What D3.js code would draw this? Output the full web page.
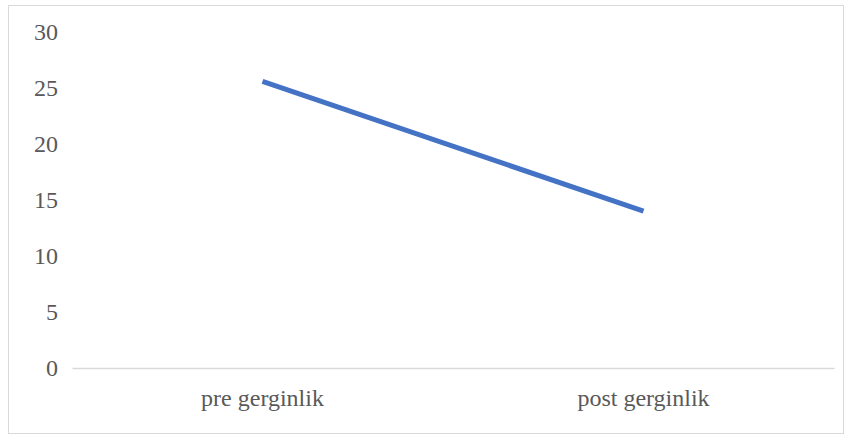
<!DOCTYPE html>
<html>
<head>
<meta charset="utf-8">
<script src="https://cdn.jsdelivr.net/npm/d3@7"></script>
<style>
  html, body { margin: 0; padding: 0; background: #fff; }
  svg { display: block; }
  svg text { font-family: "Liberation Serif", "DejaVu Serif", serif !important; }
</style>
</head>
<body>
<svg id="chart" width="849" height="435"></svg>
<script>
// Data
const categories = ["pre gerginlik", "post gerginlik"];
const values = [25.6, 14.0];
const yTicks = [0, 5, 10, 15, 20, 25, 30];

const W = 849, H = 435;
const margin = { top: 32, right: 15, bottom: 67, left: 72 };

const svg = d3.select("#chart");

// Chart area frame
svg.append("rect")
  .attr("x", 8.5).attr("y", 5.5)
  .attr("width", W - 14).attr("height", H - 7)
  .attr("fill", "#fff")
  .attr("stroke", "#d9d9d9")
  .attr("stroke-width", 1);

const x = d3.scaleBand()
  .domain(categories)
  .range([margin.left, W - margin.right])
  .paddingInner(0).paddingOuter(0);

const y = d3.scaleLinear()
  .domain([0, 30])
  .range([H - margin.bottom, margin.top]);

// Y axis labels (no axis line, no gridlines)
const yAxis = d3.axisLeft(y).tickValues(yTicks).tickSize(0).tickPadding(0);
const yG = svg.append("g")
  .attr("transform", `translate(${margin.left - 14},0)`)
  .call(yAxis)
  .attr("font-family", null)
  .attr("font-size", 24);
yG.select(".domain").remove();
yG.selectAll("text")
  .attr("fill", "#595959")
  .attr("dy", "0.3em");

// X axis
const xAxis = d3.axisBottom(x).tickSize(0).tickPadding(0);
const xG = svg.append("g")
  .attr("transform", `translate(0,${y(0)})`)
  .call(xAxis)
  .attr("font-family", null)
  .attr("font-size", 24);
xG.select(".domain")
  .attr("stroke", "#d9d9d9")
  .attr("stroke-width", 1.5);
xG.selectAll("text")
  .attr("fill", "#595959")
  .attr("dy", "1.58em");

// Line
const line = d3.line()
  .x((d, i) => x(categories[i]) + x.bandwidth() / 2)
  .y(d => y(d));

svg.append("path")
  .datum(values)
  .attr("d", line)
  .attr("fill", "none")
  .attr("stroke", "#4472c4")
  .attr("stroke-width", 5)
  .attr("stroke-linecap", "butt");
</script>
</body>
</html>
